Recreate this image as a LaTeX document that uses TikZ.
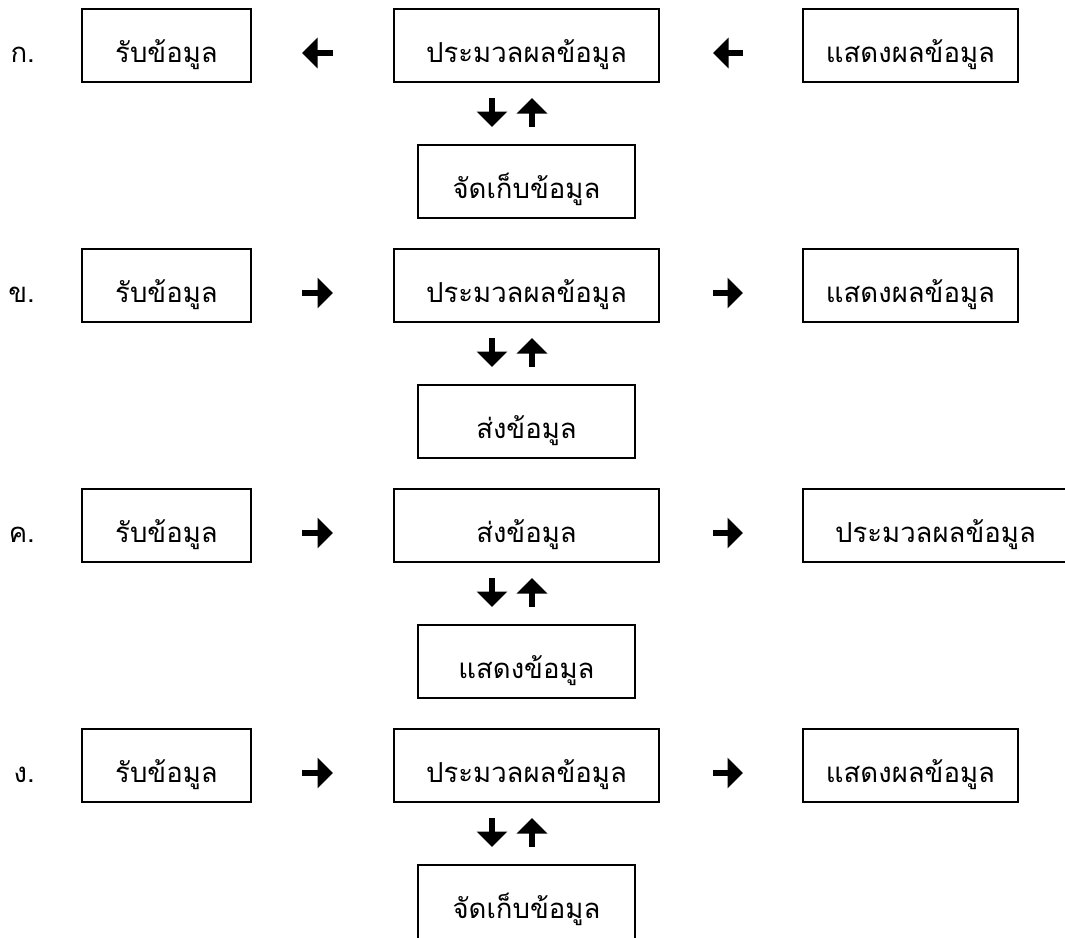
\documentclass[tikz,border=0pt]{standalone}
\usepackage{fontspec}
\newfontfamily\thai[Script=Thai]{Loma}
\usetikzlibrary{arrows.meta}
\tikzset{
  box/.style={draw, line width=1.8pt, inner sep=0pt, outer sep=0pt,
    text height=53pt, text depth=20pt, anchor=north west,
    font=\thai\fontsize{27.5}{30}\selectfont},
  rowlabel/.style={anchor=base east, inner sep=0pt, font=\thai\fontsize{27.5}{30}\selectfont},
  blockarrow/.style={line width=6.5pt, -{Triangle[width=30pt,length=15.5pt]}},
}
\begin{document}
\begin{tikzpicture}[x=1pt,y=-1pt]
\useasboundingbox (0,0) rectangle (1065,937);
% Row 1
\node[rowlabel] (la) at (35,62) {ก.};
\node[box, minimum width=169pt] (a1) at (82,9) {รับข้อมูล};
\node[box, minimum width=265pt] (a2) at (394,9) {ประมวลผลข้อมูล};
\node[box, minimum width=215pt] (a3) at (803,9) {แสดงผลข้อมูล};
\node[box, minimum width=217pt] (a4) at (418,145) {จัดเก็บข้อมูล};
\draw[blockarrow, shorten <=61pt, shorten >=51pt] ([yshift=-7.5pt]a2.west) -- ([yshift=-7.5pt]a1.east);
\draw[blockarrow, shorten <=60pt, shorten >=54pt] ([yshift=-7.5pt]a3.west) -- ([yshift=-7.5pt]a2.east);
\draw[blockarrow, shorten <=16pt, shorten >=18pt] ([xshift=-34.5pt]a2.south) -- ([xshift=-34.5pt]a4.north);
\draw[blockarrow, shorten <=18pt, shorten >=16pt] ([xshift=5.5pt]a4.north) -- ([xshift=5.5pt]a2.south);
% Row 2
\node[rowlabel] (lb) at (35,302) {ข.};
\node[box, minimum width=169pt] (b1) at (82,249) {รับข้อมูล};
\node[box, minimum width=265pt] (b2) at (394,249) {ประมวลผลข้อมูล};
\node[box, minimum width=215pt] (b3) at (803,249) {แสดงผลข้อมูล};
\node[box, minimum width=217pt] (b4) at (418,385) {ส่งข้อมูล};
\draw[blockarrow, shorten <=51pt, shorten >=61pt] ([yshift=-7.5pt]b1.east) -- ([yshift=-7.5pt]b2.west);
\draw[blockarrow, shorten <=54pt, shorten >=60pt] ([yshift=-7.5pt]b2.east) -- ([yshift=-7.5pt]b3.west);
\draw[blockarrow, shorten <=16pt, shorten >=18pt] ([xshift=-34.5pt]b2.south) -- ([xshift=-34.5pt]b4.north);
\draw[blockarrow, shorten <=18pt, shorten >=16pt] ([xshift=5.5pt]b4.north) -- ([xshift=5.5pt]b2.south);
% Row 3
\node[rowlabel] (lc) at (35,542) {ค.};
\node[box, minimum width=169pt] (c1) at (82,489) {รับข้อมูล};
\node[box, minimum width=265pt] (c2) at (394,489) {ส่งข้อมูล};
\node[box, minimum width=265pt] (c3) at (803,489) {ประมวลผลข้อมูล};
\node[box, minimum width=217pt] (c4) at (418,625) {แสดงข้อมูล};
\draw[blockarrow, shorten <=51pt, shorten >=61pt] ([yshift=-7.5pt]c1.east) -- ([yshift=-7.5pt]c2.west);
\draw[blockarrow, shorten <=54pt, shorten >=60pt] ([yshift=-7.5pt]c2.east) -- ([yshift=-7.5pt]c3.west);
\draw[blockarrow, shorten <=16pt, shorten >=18pt] ([xshift=-34.5pt]c2.south) -- ([xshift=-34.5pt]c4.north);
\draw[blockarrow, shorten <=18pt, shorten >=16pt] ([xshift=5.5pt]c4.north) -- ([xshift=5.5pt]c2.south);
% Row 4
\node[rowlabel] (ld) at (35,782) {ง.};
\node[box, minimum width=169pt] (d1) at (82,729) {รับข้อมูล};
\node[box, minimum width=265pt] (d2) at (394,729) {ประมวลผลข้อมูล};
\node[box, minimum width=215pt] (d3) at (803,729) {แสดงผลข้อมูล};
\node[box, minimum width=217pt, text depth=24pt] (d4) at (418,865) {จัดเก็บข้อมูล};
\draw[blockarrow, shorten <=51pt, shorten >=61pt] ([yshift=-7.5pt]d1.east) -- ([yshift=-7.5pt]d2.west);
\draw[blockarrow, shorten <=54pt, shorten >=60pt] ([yshift=-7.5pt]d2.east) -- ([yshift=-7.5pt]d3.west);
\draw[blockarrow, shorten <=16pt, shorten >=18pt] ([xshift=-34.5pt]d2.south) -- ([xshift=-34.5pt]d4.north);
\draw[blockarrow, shorten <=18pt, shorten >=16pt] ([xshift=5.5pt]d4.north) -- ([xshift=5.5pt]d2.south);
\end{tikzpicture}
\end{document}
